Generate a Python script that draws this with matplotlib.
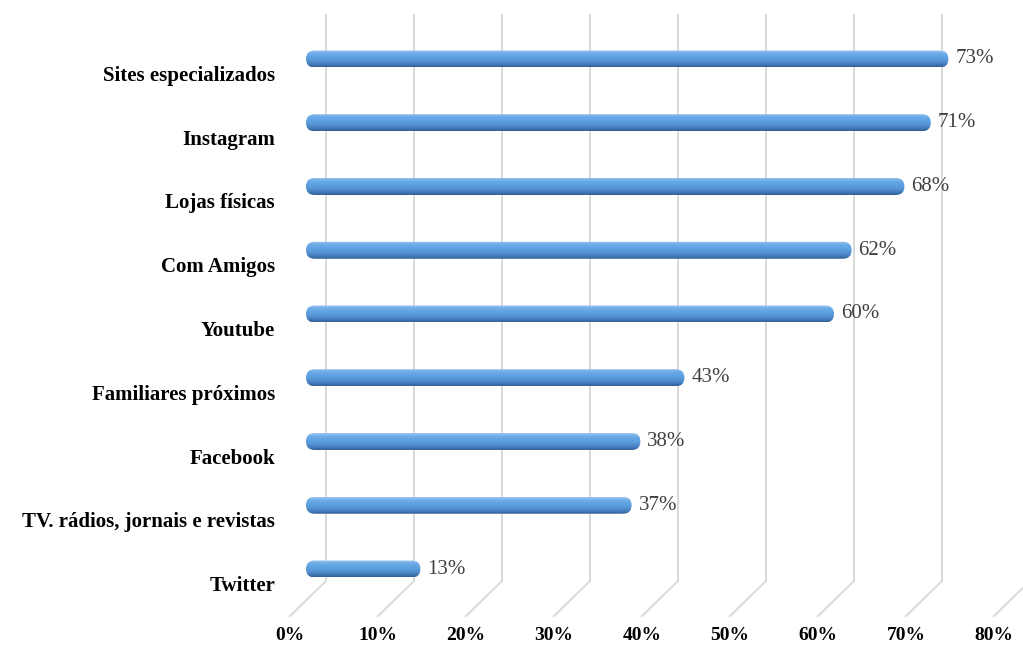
import numpy as np
import matplotlib
matplotlib.use("Agg")
import matplotlib.pyplot as plt
from matplotlib.transforms import ScaledTranslation
from matplotlib.patches import FancyBboxPatch

# data (top to bottom as in the chart)
categories = ["Sites especializados", "Instagram", "Lojas físicas", "Com Amigos",
              "Youtube", "Familiares próximos", "Facebook",
              "TV. rádios, jornais e revistas", "Twitter"]
values = [73, 71, 68, 62, 60, 43, 38, 37, 13]
ticks = [0, 10, 20, 30, 40, 50, 60, 70, 80]
tick_labels = ["0%", "10%", "20%", "30%", "40%", "50%", "60%", "70%", "80%"]

W, H, DPI = 1023, 647, 100
fig = plt.figure(figsize=(W / DPI, H / DPI), dpi=DPI)
fig.patch.set_facecolor("white")

# plot area mapped so that y index 0 (bottom) .. 8 (top), 63.75 px per row
row_px = 63.75
y_lo = -12 / row_px
y_hi = 8 + 45 / row_px
ax = fig.add_axes([306 / W, (H - 581) / H, 704 / W, 567 / H])
ax.set_xlim(0, 80)
ax.set_ylim(y_lo, y_hi)
ax.axis("off")


def shift(dx, dy):
    # pixel offset on top of data coords
    return ax.transData + ScaledTranslation(dx / DPI, dy / DPI, fig.dpi_scale_trans)


grid_c = "#d9d9d9"
for t, lab in zip(ticks, tick_labels):
    # back wall line and floor line
    ax.plot([t, t], [y_lo, y_hi], color=grid_c, lw=1.4, transform=shift(20, 0),
            clip_on=False, zorder=1, solid_capstyle="butt")
    x0, y0 = ax.transData.transform((t, y_lo))
    fx, fy = fig.transFigure.inverted().transform([(x0 + 20, y0), (x0 - 16, y0 - 35)]).T
    fig.add_artist(plt.Line2D(fx, fy, color=grid_c, lw=1.4, zorder=1))
    ax.text(t, y_lo, lab, transform=shift(-16, -54), ha="center", va="center",
            fontsize=14, fontweight="bold", family="Liberation Serif", color="black",
            clip_on=False)

# cylinder-like shading
shade = np.array([
    [0.62, 0.78, 0.94],
    [0.45, 0.68, 0.91],
    [0.38, 0.65, 0.90],
    [0.36, 0.62, 0.87],
    [0.33, 0.57, 0.82],
    [0.27, 0.49, 0.74],
    [0.20, 0.38, 0.60],
])
grad = np.interp(np.linspace(0, 1, 40), np.linspace(0, 1, len(shade)), np.arange(len(shade)))
img = np.array([shade[int(np.floor(g))] * (1 - (g % 1)) + shade[min(int(np.floor(g)) + 1, len(shade) - 1)] * (g % 1) for g in grad])
img = img[:, None, :]

bar_h = 17 / row_px
r_px = 8.5
x_px = 704 / 80
n = len(categories)
for k, (cat, v) in enumerate(zip(categories, values)):
    y = n - 1 - k
    clip = FancyBboxPatch((0, y - bar_h / 2), v, bar_h,
                          boxstyle=f"round,pad=0,rounding_size={r_px / x_px}",
                          mutation_aspect=x_px / row_px,
                          transform=ax.transData, facecolor="none", edgecolor="none")
    ax.add_patch(clip)
    im = ax.imshow(img, extent=(0, v, y - bar_h / 2, y + bar_h / 2), aspect="auto",
                   interpolation="bilinear", zorder=3)
    im.set_clip_path(clip)
    ax.text(v, y, f"{v}%", transform=shift(7, 0), ha="left", va="center",
            fontsize=15, family="Liberation Serif", color="#404040", clip_on=False)
    ax.text(0, y, cat, transform=shift(-31, -17), ha="right", va="center",
            fontsize=15, fontweight="bold", family="Liberation Serif", color="black",
            clip_on=False)

ax.set_xlim(0, 80)
ax.set_ylim(y_lo, y_hi)
fig.savefig("out.png", dpi=DPI, facecolor="white")
